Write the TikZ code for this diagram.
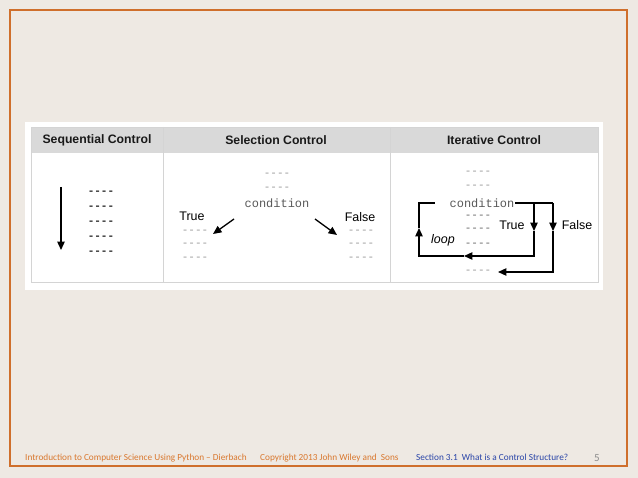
\documentclass[tikz,border=0pt]{standalone}
\usepackage{fontspec}
\setmainfont{Liberation Sans}
\newfontfamily\footfont{Carlito}
\newfontfamily\codefont{Liberation Mono}
\usetikzlibrary{arrows.meta}
\definecolor{bgc}{HTML}{EEE9E3}
\definecolor{framec}{HTML}{CF6F2C}
\definecolor{gridc}{HTML}{D4D4D4}
\definecolor{headc}{HTML}{D9D9D9}
\definecolor{footorange}{HTML}{D9782F}
\definecolor{footblue}{HTML}{2A45A8}
\tikzset{
  head/.style={font=\bfseries\fontsize{12.3}{14}\selectfont, inner sep=0pt, text=black!90},
  dsh/.style={font=\codefont\bfseries\fontsize{11}{12}\selectfont, inner sep=0pt, text=black!85},
  ldsh/.style={font=\codefont\fontsize{11}{12}\selectfont, inner sep=0pt, text=black!40},
  cond/.style={font=\codefont\fontsize{12}{13}\selectfont, inner sep=1pt, text=black!65},
  lbl/.style={font=\fontsize{12.5}{14}\selectfont, inner sep=0pt},
  flow/.style={line width=1.3pt, black},
  tip/.style={-{Triangle[length=8.5pt,width=7.5pt]}},
  foot/.style={font=\footfont\fontsize{9.3}{11}\selectfont, anchor=base west, inner sep=0pt}
}
\begin{document}
\begin{tikzpicture}[x=1bp,y=-1bp]
\useasboundingbox (0,0) rectangle (638,478);
\fill[bgc] (0,0) rectangle (638,478);
\draw[framec, line width=1.8pt] (10,10) rectangle (627,466);
\fill[white] (25,122) rectangle (603,290);
% table
\fill[headc] (31,127) rectangle (598,153);
\draw[gridc, line width=0.8pt] (31,127) rectangle (598,282);
\draw[gridc, line width=0.8pt] (163,127) -- (163,282);
\draw[gridc, line width=0.8pt] (390,127) -- (390,282);
\node[head] (h1) at (97,140) {Sequential Control};
\node[head] (h2) at (276,140) {Selection Control};
\node[head] (h3) at (494,140) {Iterative Control};
% sequential
\coordinate (sa) at (61,187);
\coordinate (sb) at (61,250);
\draw[flow, tip] (sa) -- (sb);
\node[dsh] (s1) at (101,193) {----};
\node[dsh] (s2) at (101,208) {----};
\node[dsh] (s3) at (101,223) {----};
\node[dsh] (s4) at (101,238) {----};
\node[dsh] (s5) at (101,253) {----};
% selection
\node[ldsh] (p1) at (277,175) {----};
\node[ldsh] (p2) at (277,189) {----};
\node[cond] (c1) at (277,203) {condition};
\node[lbl] (t1) at (192,216) {True};
\node[lbl] (f1) at (360,217) {False};
\coordinate (ta) at (234,219);
\coordinate (tb) at (213,234);
\coordinate (fa) at (315,219);
\coordinate (fb) at (337,235);
\draw[flow, tip] (ta) -- (tb);
\draw[flow, tip] (fa) -- (fb);
\node[ldsh] (l1) at (195,232) {----};
\node[ldsh] (l2) at (195,245) {----};
\node[ldsh] (l3) at (195,259) {----};
\node[ldsh] (r1) at (361,232) {----};
\node[ldsh] (r2) at (361,245) {----};
\node[ldsh] (r3) at (361,259) {----};
% iterative
\node[ldsh] (q1) at (478,173) {----};
\node[ldsh] (q2) at (478,187) {----};
\node[cond] (c2) at (482,203) {condition};
\node[ldsh, text=black!60] (b1) at (478,217) {----};
\node[ldsh, text=black!60] (b2) at (478,230) {----};
\node[ldsh, text=black!60] (b3) at (478,245) {----};
\node[ldsh] (b4) at (478,272) {----};
\node[lbl] (t2) at (512,225) {True};
\node[lbl] (f2) at (577,225) {False};
\node[lbl, font=\itshape\fontsize{12.5}{14}\selectfont] (lp) at (443,240) {loop};
\coordinate (tt) at (534,203);
\coordinate (tm) at (534,231);
\coordinate (tbot) at (534,256);
\coordinate (lm) at (464,256);
\coordinate (lbot) at (419,256);
\coordinate (um) at (419,228);
\coordinate (ltop) at (419,203);
\coordinate (lend) at (435,203);
\coordinate (ft) at (553,203);
\coordinate (fm) at (553,231);
\coordinate (fbot) at (553,272);
\coordinate (fend) at (498,272);
\draw[flow] (c2.east) -- (ft);
\draw[flow, tip] (tt) -- (tm);
\draw[flow, tip] (tm) -- (tbot) -- (lm);
\draw[flow, tip] (lm) -- (lbot) -- (um);
\draw[flow] (um) -- (ltop) -- (lend);
\draw[flow, tip] (ft) -- (fm);
\draw[flow, tip] (fm) -- (fbot) -- (fend);
% footer
\node[foot, text=footorange] (ft1) at (25,460) {Introduction to Computer Science Using Python – Dierbach};
\node[foot, text=footorange] (ft2) at (260,460) {Copyright 2013 John Wiley and\ \ Sons};
\node[foot, text=footblue] (ft3) at (416,460) {Section 3.1\ \ What is a Control Structure?};
\node[foot, text=black!45, font=\footfont\fontsize{11}{12}\selectfont] (ft4) at (594,461) {5};
\end{tikzpicture}
\end{document}
